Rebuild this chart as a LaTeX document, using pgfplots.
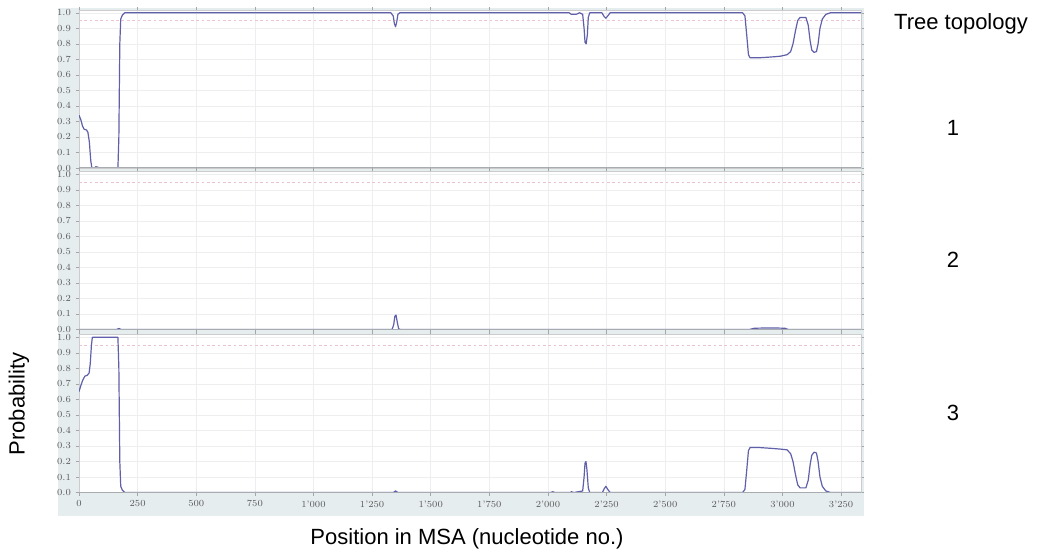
\documentclass[border=0pt]{standalone}
\usepackage{fontspec}
\usepackage{pgfplots}
\pgfplotsset{compat=1.18}
\newfontfamily\arialfont{Liberation Sans}
\definecolor{curve}{RGB}{96,96,170}
\definecolor{framebg}{RGB}{230,237,239}
\definecolor{sig}{RGB}{232,196,208}
\definecolor{gridc}{RGB}{236,238,240}
\definecolor{zerogray}{RGB}{168,172,176}

\pgfplotsset{
  panel/.style={
    scale only axis, width=586.5pt, height=118.5pt,
    xmin=0, xmax=3335, ymin=0, ymax=1.018,
    axis background/.style={fill=white},
    xtick={0,250,500,750,1000,1250,1500,1750,2000,2250,2500,2750,3000,3250},
    ytick={0,0.1,0.2,0.3,0.4,0.5,0.6,0.7,0.8,0.9,1},
    grid=major, major grid style={gridc, line width=0.4pt},
    axis line style={gray!40},
    tick style={gray!70, line width=0.4pt}, tick align=outside, major tick length=2.5pt,
    ticklabel style={font=\fontsize{7}{8}\selectfont, text=black!65},
    yticklabel style={/pgf/number format/fixed, /pgf/number format/fixed zerofill, /pgf/number format/precision=1},
    anchor=south west,
  },
  prob/.style={curve, line width=0.9pt, line join=round, mark=none},
  siglevel/.style={sig, line width=0.5pt, dash pattern=on 2pt off 2pt, mark=none},
}
\tikzset{zeroline/.style={draw=zerogray, line width=1.3pt}}

\begin{document}
\begin{tikzpicture}
\useasboundingbox (0,0) rectangle (786.75pt,412.5pt);
\fill[framebg] (43.5pt,25.5pt) rectangle (648pt,406.5pt);

% topology 1
\begin{axis}[panel, at={(59.25pt,286.5pt)}, xticklabels={}]
\addplot[siglevel] coordinates {(0,0.95) (3335,0.95)};
\addplot[prob] coordinates {
(0,0.34) (8,0.31) (15,0.27) (22,0.25) (32,0.245) (38,0.23) (44,0.17) (50,0.05) (55,0.0) (65,0.0) (72,0.008) (80,0.005) (90,0) (166,0) (170,0.2) (174,0.8) (178,0.96) (185,0.985) (195,1.0)
(1330,1.0) (1340,0.98) (1345,0.93) (1350,0.91) (1355,0.94) (1360,0.99) (1368,1.0)
(2090,1.0) (2100,0.99) (2120,0.99) (2135,1.0) (2148,0.99) (2154,0.9) (2158,0.81) (2163,0.80) (2168,0.86) (2172,0.97) (2178,1.0)
(2230,1.0) (2240,0.975) (2247,0.965) (2255,0.98) (2265,1.0)
(2830,1.0) (2840,0.98) (2848,0.85) (2855,0.73) (2862,0.71) (2900,0.71) (2950,0.715) (2990,0.72) (3020,0.73) (3035,0.75) (3045,0.8) (3055,0.88) (3065,0.95) (3075,0.97) (3100,0.97) (3110,0.92) (3118,0.82) (3125,0.76) (3135,0.745) (3145,0.75) (3152,0.8) (3160,0.9) (3170,0.96) (3185,0.99) (3205,1.0) (3335,1.0)
};
\draw[zeroline] (rel axis cs:0,0) -- (rel axis cs:1,0);
\end{axis}

% topology 2
\begin{axis}[panel, at={(59.25pt,165.4pt)}, xticklabels={}]
\addplot[siglevel] coordinates {(0,0.95) (3335,0.95)};
\addplot[prob] coordinates {
(0,0) (160,0) (170,0.006) (180,0) (1335,0) (1342,0.03) (1347,0.085) (1352,0.093) (1357,0.05) (1363,0.005) (1370,0)
(2860,0) (2880,0.008) (2950,0.01) (3010,0.008) (3025,0) (3335,0)
};
\draw[zeroline] (rel axis cs:0,0) -- (rel axis cs:1,0);
\end{axis}

% topology 3
\begin{axis}[panel, at={(59.25pt,43.1pt)},
  xticklabels={0,250,500,750,1'000,1'250,1'500,1'750,2'000,2'250,2'500,2'750,3'000,3'250}]
\addplot[siglevel] coordinates {(0,0.95) (3335,0.95)};
\addplot[prob] coordinates {
(0,0.65) (8,0.69) (15,0.72) (25,0.75) (35,0.755) (43,0.77) (48,0.83) (53,0.95) (57,1.0) (166,1.0) (170,0.8) (174,0.2) (178,0.04) (185,0.015) (195,0)
(1340,0) (1350,0.01) (1360,0) (2010,0) (2020,0.005) (2030,0) (2095,0) (2100,0.005) (2110,0)
(2148,0.01) (2154,0.1) (2158,0.19) (2162,0.2) (2166,0.15) (2172,0.03) (2178,0)
(2232,0) (2240,0.025) (2247,0.04) (2255,0.02) (2265,0)
(2830,0) (2840,0.02) (2848,0.15) (2855,0.27) (2862,0.29) (2900,0.29) (2950,0.285) (2990,0.28) (3020,0.275) (3035,0.25) (3045,0.2) (3055,0.12) (3065,0.05) (3075,0.03) (3100,0.03) (3110,0.08) (3118,0.18) (3125,0.24) (3135,0.26) (3145,0.255) (3152,0.2) (3160,0.1) (3170,0.04) (3185,0.01) (3205,0) (3335,0)
};
\draw[zeroline] (rel axis cs:0,0) -- (rel axis cs:1,0);
\end{axis}

\begin{scope}[every node/.style={font=\arialfont\fontsize{16.5}{20}\selectfont, inner sep=0pt}]
\node[anchor=base] at (720.75pt,390pt) {Tree topology};
\node[anchor=base] at (714.75pt,310.5pt) {1};
\node[anchor=base] at (714.75pt,211.5pt) {2};
\node[anchor=base] at (714.75pt,97.5pt) {3};
\node[rotate=90] at (14.25pt,109.5pt) {Probability};
\node[anchor=base] at (350.25pt,4.5pt) {Position in MSA (nucleotide no.)};
\end{scope}
\end{tikzpicture}
\end{document}
